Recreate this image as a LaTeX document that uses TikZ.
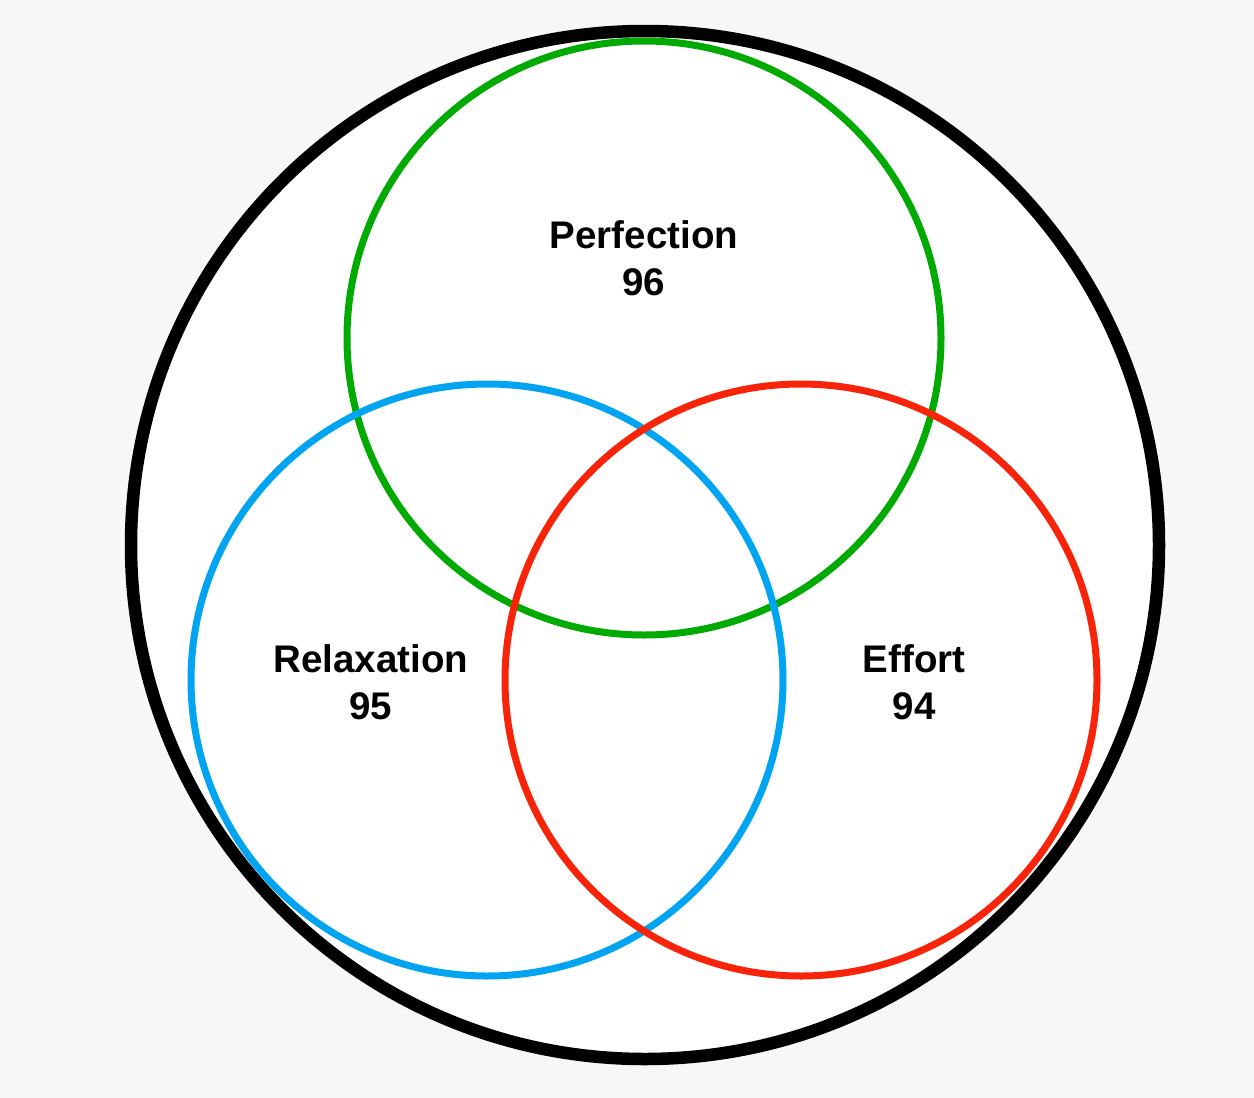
\documentclass[tikz,border=0pt]{standalone}
\usepackage{fontspec}
\setmainfont{Liberation Sans}
\definecolor{bgc}{RGB}{247,247,247}
\definecolor{vgreen}{RGB}{0,170,0}
\definecolor{vblue}{RGB}{0,164,240}
\definecolor{vred}{RGB}{248,36,10}
\tikzset{
  ring/.style={line width=7pt},
  lbl/.style={font=\fontsize{38.5}{46}\selectfont\bfseries, anchor=base, inner sep=0pt}
}
\begin{document}
\begin{tikzpicture}[x=1pt,y=-1pt]
\fill[bgc] (0,0) rectangle (1254,1098);
\useasboundingbox (0,0) rectangle (1254,1098);
\draw[line width=12.5pt, fill=white] (645,545) circle[radius=514];
\draw[ring, vgreen] (644,338) circle[radius=297];
\draw[ring, vblue] (487,680) circle[radius=296];
\draw[ring, vred] (801,680) circle[radius=296];
\node[lbl] (perf) at (644,248) {Perfection};
\node[lbl] (perfn) at (644,295) {96};
\node[lbl] (relax) at (371,672) {Relaxation};
\node[lbl] (relaxn) at (371,719) {95};
\node[lbl] (eff) at (914,672) {Effort};
\node[lbl] (effn) at (914,719) {94};
\end{tikzpicture}
\end{document}
